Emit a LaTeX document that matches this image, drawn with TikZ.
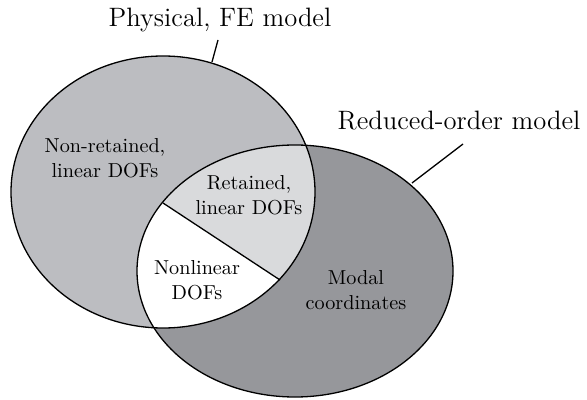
\documentclass[tikz,border=0pt]{standalone}
\usepackage{xcolor}
\usepackage{tikz}
\usetikzlibrary{positioning}

\definecolor{feGray}{RGB}{188,189,193}
\definecolor{romGray}{RGB}{150,151,155}
\definecolor{retGray}{RGB}{217,218,220}

\begin{document}
\begin{tikzpicture}[x=0.5pt,y=-0.5pt,
  outline/.style={black,line width=0.65pt},
  setlabel/.style={font=\fontsize{13.3}{16}\selectfont,inner sep=0pt},
  region/.style={align=center,font=\fontsize{10.1}{12.6}\selectfont,inner sep=0pt}]
\useasboundingbox (0,0) rectangle (587,400);
% set centres
\coordinate (feC) at (163,192);
\coordinate (romC) at (295,271);
% fills
\fill[feGray] (feC) ellipse [x radius=152, y radius=136];
\fill[romGray] (romC) ellipse [x radius=158, y radius=126];
\begin{scope}
  \clip (feC) ellipse [x radius=152, y radius=136];
  \fill[retGray] (romC) ellipse [x radius=158, y radius=126];
  \clip (romC) ellipse [x radius=158, y radius=126];
  \fill[white] (163,203) -- (280,280) -- (360,340) -- (100,400) -- (60,160) -- cycle;
\end{scope}
% boundaries and split of the overlap
\coordinate (splitL) at (163,203);
\coordinate (splitR) at (280,280);
\draw[outline] (feC) ellipse [x radius=152, y radius=136];
\draw[outline] (romC) ellipse [x radius=158, y radius=126];
\draw[outline] (splitL) -- (splitR);
% set names with leader lines
\node[setlabel] (fe) at (220,20) {Physical, FE model};
\node[setlabel] (rom) at (459,121) {Reduced-order model};
\coordinate (feEdge) at (212,62);
\coordinate (feTip) at (218,40);
\coordinate (romEdge) at (412,183);
\coordinate (romTip) at (463,144);
\draw[outline] (feEdge) -- (feTip);
\draw[outline] (romEdge) -- (romTip);
% region labels
\node[region] (nonret) at (105,158) {Non-retained,\\linear DOFs};
\node[region] (ret) at (249,195) {Retained,\\linear DOFs};
\node[region] (nonlin) at (197,280) {Nonlinear\\DOFs};
\node[region] (modal) at (356,290) {Modal\\coordinates};
\end{tikzpicture}
\end{document}
